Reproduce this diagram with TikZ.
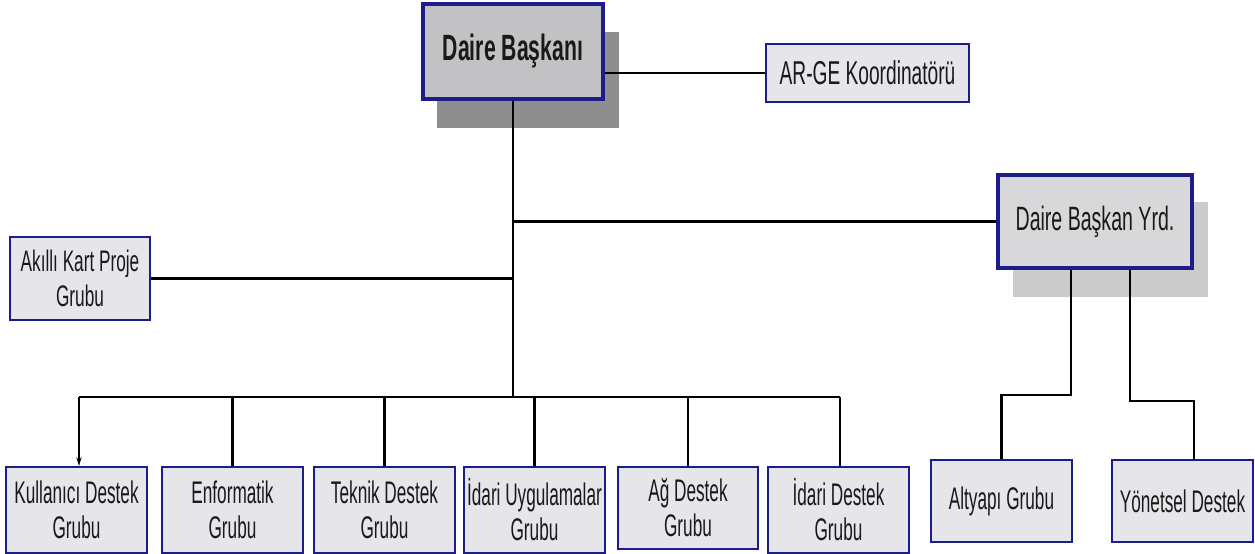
\documentclass[tikz,border=0pt]{standalone}
\usepackage{fontspec}
\newfontfamily\nf[FakeStretch=0.58]{Liberation Sans}
\newfontfamily\nfb[FakeStretch=0.55]{Liberation Sans}
\usetikzlibrary{arrows.meta}
\newdimen\pxu \pxu=0.02cm
\definecolor{navy}{HTML}{1C1C8A}
\definecolor{boxfill}{HTML}{E6E6EA}
\definecolor{topfill}{HTML}{C2C2C4}
\definecolor{yrdfill}{HTML}{D8D8DA}
\definecolor{darkshadow}{HTML}{8E8E8E}
\definecolor{lightshadow}{HTML}{CBCBCB}
\tikzset{
  orgbox/.style={draw=navy, line width=1.2pt, fill=boxfill, align=center, inner sep=0pt,
     text=black!90, font=\nfb\fontsize{17.8}{20}\selectfont},
  bigbox/.style={orgbox, line width=1.8pt},
  conn/.style={line width=1.3pt, black}
}
\begin{document}
\begin{tikzpicture}[x=0.02cm,y=-0.02cm]
\useasboundingbox (0,0) rectangle (1255,554);
% shadows
\fill[darkshadow] (437,32) rectangle (619,128);
\fill[lightshadow] (1013,202) rectangle (1208,297);
% nodes
\node[bigbox, fill=topfill, minimum width=180\pxu, minimum height=95\pxu,
      font=\nf\bfseries\fontsize{20.8}{24}\selectfont] (bas) at (513,51.5) {Daire Başkanı};
\node[orgbox, minimum width=203\pxu, minimum height=58\pxu,
      font=\nf\fontsize{18.8}{22}\selectfont] (arge) at (867.5,73) {AR-GE Koordinatörü};
\node[bigbox, fill=yrdfill, minimum width=194\pxu, minimum height=93\pxu,
      font=\nf\fontsize{19.2}{22}\selectfont] (yrd) at (1095,221.5) {Daire Başkan Yrd.};
\node[orgbox, minimum width=140\pxu, minimum height=83\pxu,
      font=\nf\fontsize{16.9}{19.6}\selectfont] (akilli) at (80,278.5) {Akıllı Kart Proje\\Grubu};
\node[orgbox, minimum width=141\pxu, minimum height=86\pxu] (kul) at (76.5,510) {Kullanıcı Destek\\Grubu};
\node[orgbox, minimum width=141\pxu, minimum height=86\pxu] (enf) at (232.5,510) {Enformatik\\Grubu};
\node[orgbox, minimum width=141\pxu, minimum height=86\pxu] (tek) at (384.5,510) {Teknik Destek\\Grubu};
\node[orgbox, minimum width=141\pxu, minimum height=86\pxu] (idu) at (534.5,510) {İdari Uygulamalar\\Grubu};
\node[orgbox, minimum width=140\pxu, minimum height=82\pxu] (ag) at (688,508) {Ağ Destek\\Grubu};
\node[orgbox, minimum width=141\pxu, minimum height=86\pxu] (idd) at (838.5,510) {İdari Destek\\Grubu};
\node[orgbox, minimum width=141\pxu, minimum height=82\pxu] (alt) at (1001.5,501) {Altyapı Grubu};
\node[orgbox, minimum width=141\pxu, minimum height=82\pxu] (yon) at (1182.5,501) {Yönetsel Destek};
% coordinates
\coordinate (busL) at (79,397);
\coordinate (busM) at (513,397);
\coordinate (busR) at (840,397);
\coordinate (yl) at (1071,395);
\coordinate (yr) at (1130,401);
\coordinate (yonin) at (1194,460);
% connectors
\draw[conn] (bas.south) -- (busM);
\draw[conn] (arge.west) -- (arge.west -| bas.east);
\draw[conn] (yrd.west) -- (yrd.west -| bas.south);
\draw[conn] (akilli.east) -- (akilli.east -| bas.south);
\draw[conn] (busL) -- (busR);
\draw[conn, -{Stealth[length=5pt,width=3pt]}] (busL) -- (busL |- kul.north);
\draw[conn] (enf.north |- busL) -- (enf.north);
\draw[conn] (tek.north |- busL) -- (tek.north);
\draw[conn] (idu.north |- busL) -- (idu.north);
\draw[conn] (ag.north |- busL) -- (ag.north);
\draw[conn] (busR) -- (busR |- idd.north);
\draw[conn] (yl |- yrd.south) -- (yl) -| (alt.north);
\draw[conn] (yr |- yrd.south) -- (yr) -| (yonin);
\end{tikzpicture}
\end{document}
